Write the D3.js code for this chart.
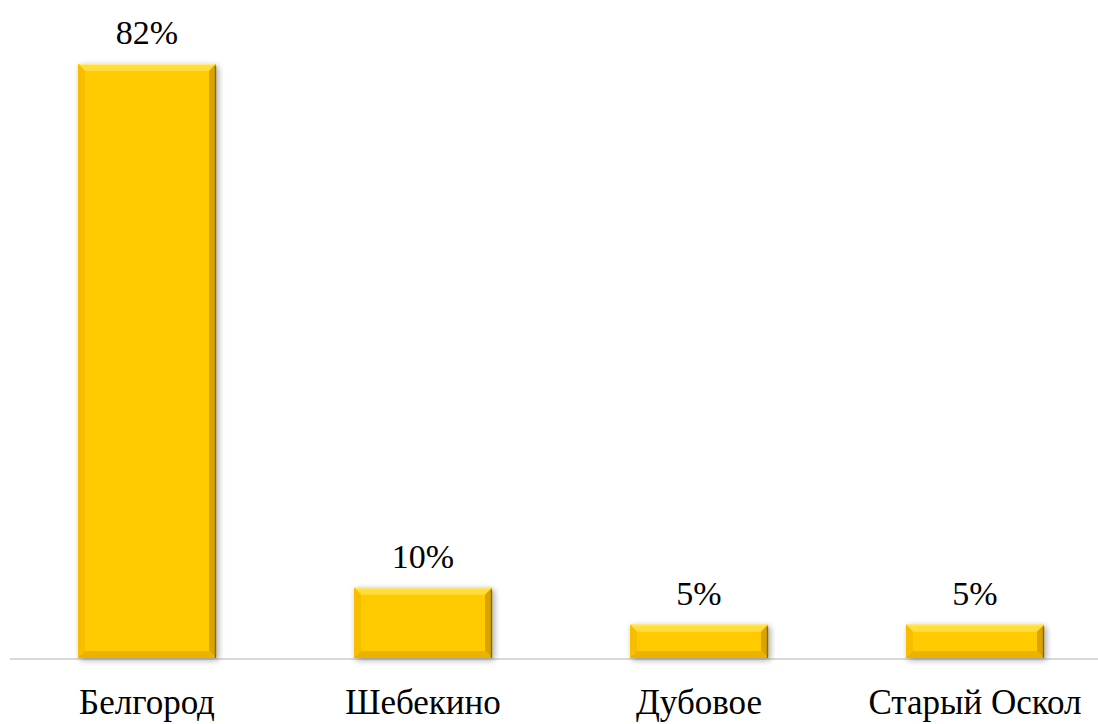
<!DOCTYPE html>
<html><head><meta charset="utf-8">
<script src="https://cdn.jsdelivr.net/npm/d3@7"></script>
<style>body{margin:0;background:#fff}svg{display:block}</style>
</head><body>
<svg id="c" width="1098" height="724"></svg>
<script>
const categories = ["Белгород", "Шебекино", "Дубовое", "Старый Оскол"];
const values = [82, 9.7, 4.6, 4.6];
const valueLabels = ["82%", "10%", "5%", "5%"];

const svg = d3.select("#c");
const baseY = 658, topY = 64;
const x = d3.scaleBand().domain(categories).range([9, 1113]).paddingInner(0.5).paddingOuter(0.25);
const y = d3.scaleLinear().domain([0, 82]).range([baseY, topY]);

const defs = svg.append("defs");
const f = defs.append("filter").attr("id","sh").attr("x","-20%").attr("y","-20%").attr("width","140%").attr("height","140%");
f.append("feGaussianBlur").attr("in","SourceAlpha").attr("stdDeviation",3).attr("result","b");
f.append("feOffset").attr("in","b").attr("dx",2).attr("dy",2).attr("result","o");
f.append("feComponentTransfer").attr("in","o").attr("result","oa").append("feFuncA").attr("type","linear").attr("slope",0.35);
const m = f.append("feMerge"); m.append("feMergeNode").attr("in","oa"); m.append("feMergeNode").attr("in","SourceGraphic");

// axis line
svg.append("line").attr("x1",10).attr("x2",1098).attr("y1",baseY+1).attr("y2",baseY+1)
  .attr("stroke","#d9d9d9").attr("stroke-width",2);

const bw = x.bandwidth();
const b = 7;
const g = svg.selectAll("g.bar").data(categories).join("g").attr("class","bar")
  .attr("filter","url(#sh)");
g.each(function(c,i){
  const G = d3.select(this);
  const x0 = x(c), x1 = x0 + bw, y0 = y(values[i]), y1 = baseY;
  G.append("rect").attr("x",x0).attr("y",y0).attr("width",bw).attr("height",y1-y0).attr("fill","#FFCB05");
  const poly = (pts, fill) => G.append("polygon").attr("points", pts.map(p=>p.join(",")).join(" ")).attr("fill",fill);
  poly([[x0,y0],[x1,y0],[x1-b,y0+b],[x0+b,y0+b]], "#FFDD3A");
  poly([[x0,y0],[x0+b,y0+b],[x0+b,y1-b],[x0,y1]], "#F7BE00");
  poly([[x1,y0],[x1,y1],[x1-b,y1-b],[x1-b,y0+b]], "#D9A400");
  poly([[x0,y1],[x1,y1],[x1-b,y1-b],[x0+b,y1-b]], "#EDB200");
  G.append("line").attr("x1",x1-0.5).attr("x2",x1-0.5).attr("y1",y0+2).attr("y2",y1).attr("stroke","#8a6a10").attr("stroke-width",1.5);
  G.append("line").attr("x1",x0+2).attr("x2",x1-2).attr("y1",y0+0.5).attr("y2",y0+0.5).attr("stroke","#FFE980").attr("stroke-width",1);
});

svg.selectAll("text.val").data(categories).join("text").attr("class","val")
  .attr("x", c => x(c) + bw/2)
  .attr("y", (c,i) => y(values[i]) - 20)
  .attr("text-anchor","middle")
  .attr("font-family","'Liberation Serif','Times New Roman',serif")
  .attr("font-size",34).attr("fill","#000")
  .text((c,i) => valueLabels[i]);

svg.selectAll("text.cat").data(categories).join("text").attr("class","cat")
  .attr("x", c => x(c) + bw/2)
  .attr("y", 714)
  .attr("text-anchor","middle")
  .attr("font-family","'Liberation Serif','Times New Roman',serif")
  .attr("font-size",35).attr("fill","#000")
  .text(c => c);
</script>
</body></html>
